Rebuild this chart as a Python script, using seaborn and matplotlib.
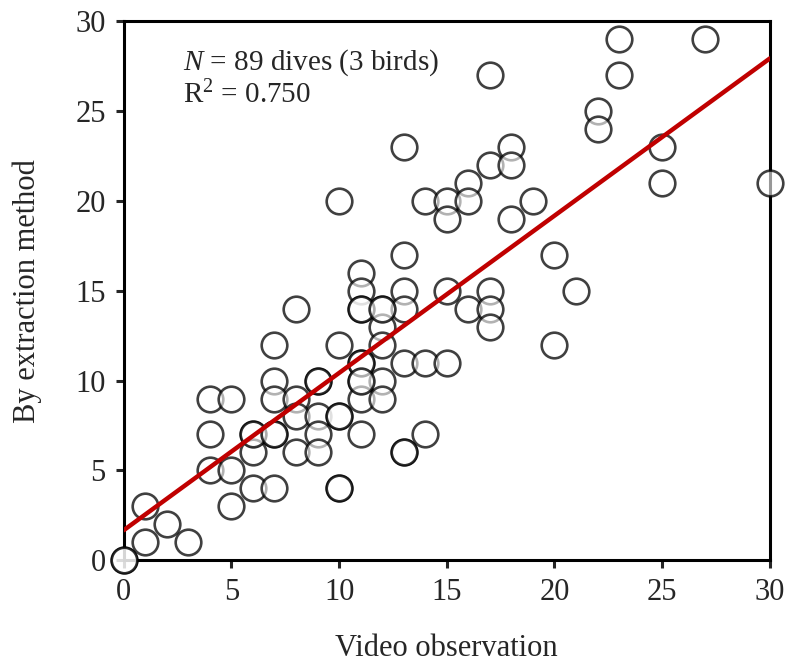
import numpy as np
import pandas as pd
import matplotlib
matplotlib.use("Agg")
import matplotlib.pyplot as plt
import seaborn as sns

# dives: video observation count vs count from extraction method
video = [23, 27, 17, 23, 22, 22, 13, 18, 25, 17, 18, 16, 25, 30,
         10, 14, 15, 16, 19, 15, 18, 13, 20, 11,
         11, 13, 15, 17, 21, 8, 11, 12, 13, 16, 17, 12, 17,
         7, 10, 12, 20, 11, 13, 14, 15,
         7, 9, 11, 12, 4, 5, 7, 8, 11, 12, 8, 9, 10,
         4, 6, 7, 9, 11, 14, 6, 8, 9, 13, 4, 5, 6, 7, 10,
         1, 5, 2, 1, 3, 0,
         # repeated dives (overlapping circles)
         6, 7, 9, 10, 10, 11, 11, 11, 12, 13, 0]
extraction = [29, 29, 27, 27, 25, 24, 23, 23, 23, 22, 22, 21, 21, 21,
              20, 20, 20, 20, 20, 19, 19, 17, 17, 16,
              15, 15, 15, 15, 15, 14, 14, 14, 14, 14, 14, 13, 13,
              12, 12, 12, 12, 11, 11, 11, 11,
              10, 10, 10, 10, 9, 9, 9, 9, 9, 9, 8, 8, 8,
              7, 7, 7, 7, 7, 7, 6, 6, 6, 6, 5, 5, 4, 4, 4,
              3, 3, 2, 1, 1, 0,
              7, 7, 10, 8, 4, 11, 10, 14, 14, 6, 0]

# fitted line as reported in the figure
fit_x = [0, 30]
fit_y = [1.67, 27.93]

df = pd.DataFrame({"video": video, "extraction": extraction})
fit = pd.DataFrame({"x": fit_x, "y": fit_y})

sns.set_style("ticks")
plt.rcParams["font.family"] = ["Liberation Serif", "DejaVu Serif"]
plt.rcParams["mathtext.fontset"] = "custom"
plt.rcParams["mathtext.it"] = "Liberation Serif:italic"
plt.rcParams["mathtext.rm"] = "Liberation Serif"

fig, ax = plt.subplots(figsize=(7.88, 6.63), dpi=100)
fig.subplots_adjust(left=0.157, right=0.977, top=0.968, bottom=0.155)

sns.scatterplot(data=df, x="video", y="extraction", ax=ax, s=340,
                facecolor=(1, 1, 1, 0.6), edgecolor=(0, 0, 0, 0.75),
                linewidth=1.9, zorder=4, clip_on=False)
sns.lineplot(data=fit, x="x", y="y", ax=ax, color="#c00000",
             linewidth=3.2, zorder=5)

ax.set_xlim(0, 30)
ax.set_ylim(0, 30)
ax.set_xticks(range(0, 31, 5))
ax.set_yticks(range(0, 31, 5))
ax.tick_params(labelsize=22, length=6, width=2.2, direction="out", pad=7)
for sp in ax.spines.values():
    sp.set_linewidth(2.2)
    sp.set_color("black")
    sp.set_visible(True)

ax.set_xlabel("Video observation", fontsize=22, labelpad=19)
ax.set_ylabel("By extraction method", fontsize=22, labelpad=24)

ax.text(0.092, 0.952, "$N$ = 89 dives (3 birds)", transform=ax.transAxes,
        fontsize=21, va="top", ha="left")
ax.text(0.092, 0.889, "R$^2$ = 0.750", transform=ax.transAxes,
        fontsize=21, va="top", ha="left")

fig.savefig("out.png", dpi=100)
